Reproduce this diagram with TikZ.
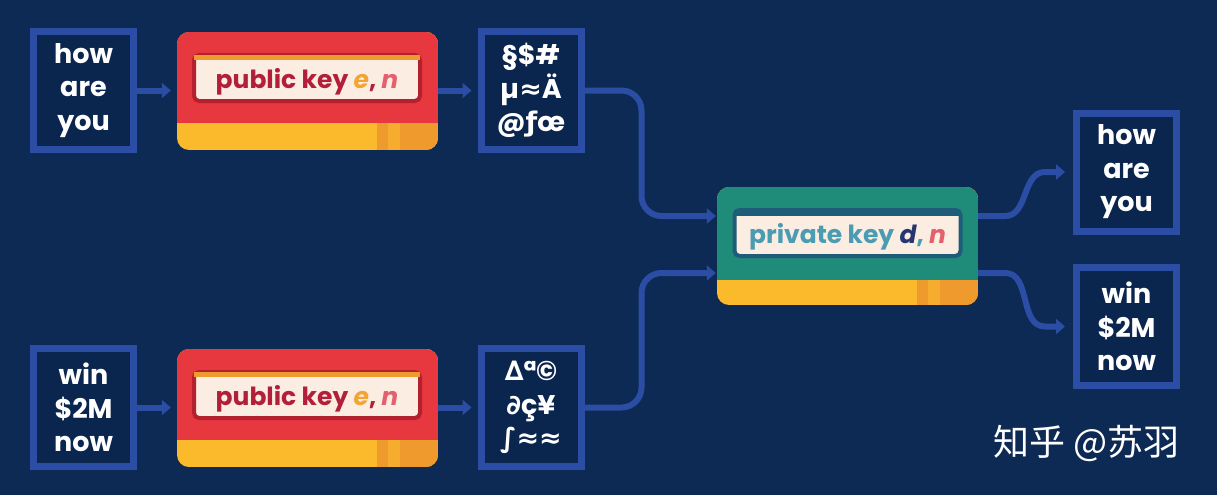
\documentclass[tikz,border=0pt]{standalone}
\usepackage{fontspec}
\setmainfont{Poppins}
\newfontfamily\djv{DejaVu Sans}
\newfontfamily\cjk{Noto Sans CJK SC}
\usetikzlibrary{arrows.meta,calc}
\definecolor{bg}{HTML}{0C2A54}
\definecolor{boxin}{HTML}{0A254E}
\definecolor{boxblue}{HTML}{2B4DA3}
\definecolor{keyred}{HTML}{E8383F}
\definecolor{darkred}{HTML}{B5202F}
\definecolor{cream}{HTML}{FCEDE3}
\definecolor{keyyel}{HTML}{FBBA2B}
\definecolor{keyorg}{HTML}{EE9A2C}
\definecolor{keylight}{HTML}{F6AC2E}
\definecolor{keygreen}{HTML}{1E8C78}
\definecolor{darkteal}{HTML}{1F5C78}
\definecolor{pubtext}{HTML}{B21F3A}
\definecolor{privtext}{HTML}{4A9CB3}
\definecolor{etext}{HTML}{F2A535}
\definecolor{ntext}{HTML}{E4606D}
\definecolor{dtext}{HTML}{26366E}
\begin{document}
\begin{tikzpicture}[x=1pt,y=-1pt,
  msgbox/.style={draw=boxblue, line width=7pt, fill=boxin, text=white,
    font=\bfseries\fontsize{27}{33.5}\selectfont, align=center,
    minimum width=100pt, minimum height=118pt, inner sep=0pt},
  conn/.style={draw=boxblue, line width=6pt, -{Triangle[length=9pt,width=15pt]}},
  keyframe/.style={minimum width=261pt, minimum height=118pt, inner sep=0pt},
  keylabel/.style={line width=4pt, rounded corners=5pt, fill=cream,
    minimum width=226pt, minimum height=46pt, inner sep=0pt,
    text height=22pt, text depth=2pt,
    font=\bfseries\fontsize{25}{25}\selectfont},
]
\useasboundingbox (0,0) rectangle (1217,495);
\fill[bg] (0,0) rectangle (1217,495);

% ---------- message boxes ----------
\node[msgbox] (in1) at (83.5,90.5) {how\\are\\you};
\node[msgbox] (in2) at (83.5,407.5) {win\\\$2M\\now};
\node[msgbox] (c1) at (531,90.5) {§\$\#\\µ{\djv\bfseries ≈}Ä\\@{\djv\bfseries ƒ}œ};
\node[msgbox] (c2) at (531,407.5) {{\djv\bfseries ∆}ª©\\{\djv\bfseries ∂}ç¥\\{\djv\bfseries ∫≈≈}};
\node[msgbox] (out1) at (1126.5,172) {how\\are\\you};
\node[msgbox] (out2) at (1126.5,326.5) {win\\\$2M\\now};

% ---------- public key boxes ----------
\foreach \dy/\nm in {0/pk1,317/pk3}{
  \begin{scope}[shift={(0,\dy)}]
    \begin{scope}
      \clip[rounded corners=12pt] (177,32) rectangle (438,150);
      \fill[keyyel] (177,32) rectangle (438,150);
      \fill[keyorg] (377,32) rectangle (438,150);
      \fill[keylight] (388,32) rectangle (400,150);
      \fill[keyred] (177,32) rectangle (438,123);
    \end{scope}
    \node[keyframe] (\nm) at (307.5,91) {};
    \node[keylabel, draw=darkred] (\nm lab) at (307,78)
      {\textcolor{pubtext}{public key} \textcolor{etext}{\itshape e}\textcolor{pubtext}{,} \textcolor{ntext}{\itshape n}};
    \fill[keyorg] ([xshift=2pt,yshift=-2pt]\nm lab.north west) rectangle ([xshift=-2pt,yshift=-7pt]\nm lab.north east);
  \end{scope}
}

% ---------- private key box ----------
\begin{scope}
  \clip[rounded corners=12pt] (717,187) rectangle (978,305);
  \fill[keyyel] (717,187) rectangle (978,305);
  \fill[keyorg] (917,187) rectangle (978,305);
  \fill[keylight] (928,187) rectangle (940,305);
  \fill[keygreen] (717,187) rectangle (978,280);
\end{scope}
\node[keyframe] (pk2) at (847.5,246) {};
\node[keylabel, draw=darkteal] (pk2lab) at (847.5,233)
  {\textcolor{privtext}{private key} \textcolor{dtext}{\itshape d}\textcolor{privtext}{,} \textcolor{ntext}{\itshape n}};
\fill[darkteal] ([xshift=2pt,yshift=-2pt]pk2lab.north west) rectangle ([xshift=-2pt,yshift=-8pt]pk2lab.north east);

% ---------- connectors ----------
\draw[conn, shorten >=6pt] (in1.east) -- (in1.east -| pk1.west);
\draw[conn, shorten >=6pt] (in2.east) -- (in2.east -| pk3.west);
\draw[conn, shorten >=6pt] (in1.east -| pk1.east) -- (c1.west);
\draw[conn, shorten >=6pt] (in2.east -| pk3.east) -- (c2.west);
\draw[conn, rounded corners=20pt, shorten >=1pt] (c1.east) -- ++(57,0) |- ([yshift=30pt]pk2.west);
\draw[conn, rounded corners=20pt, shorten >=1pt] (c2.east) -- ++(57,0) |- ([yshift=-27pt]pk2.west);
\draw[conn, shorten >=8pt] ([yshift=30pt]pk2.east) -- ++(27,0) to[out=0,in=180] ([xshift=-28pt]out1.west) -- (out1.west);
\draw[conn, shorten >=8pt] ([yshift=-27pt]pk2.east) -- ++(27,0) to[out=0,in=180] ([xshift=-28pt]out2.west) -- (out2.west);

% ---------- watermark ----------
\node[text=white, font=\cjk\fontsize{36}{36}\selectfont, anchor=west] (wm) at (990,443) {知乎 @苏羽};
\end{tikzpicture}
\end{document}
